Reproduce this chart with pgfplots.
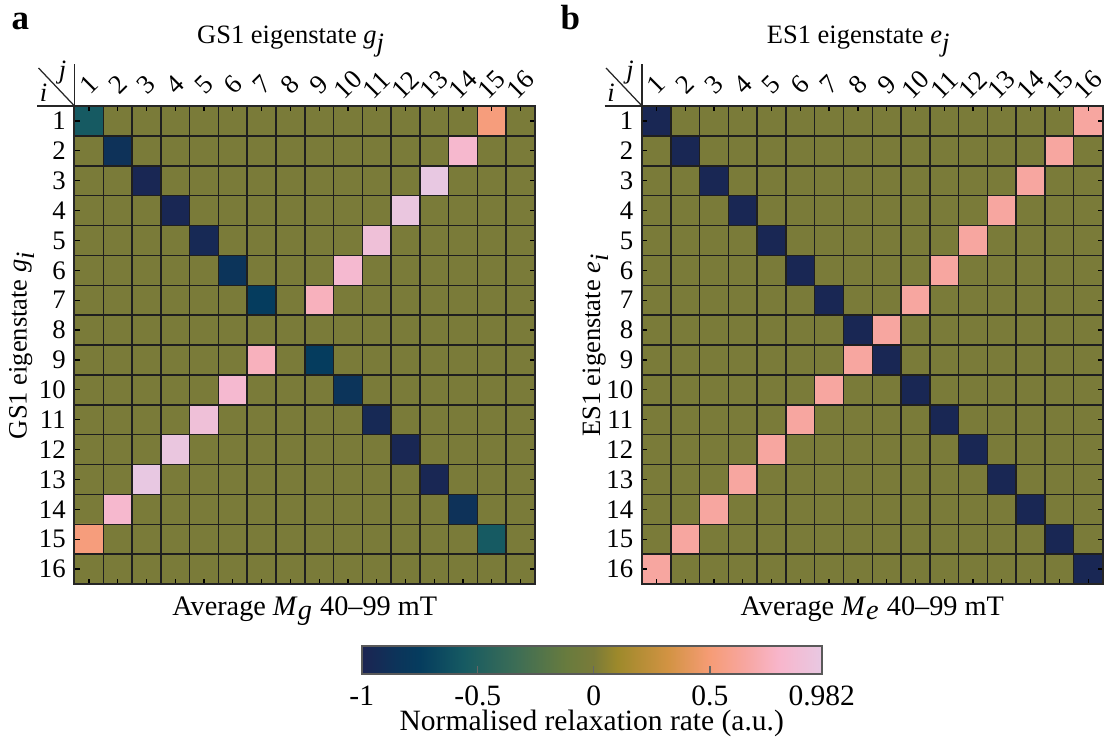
\documentclass[border=0pt]{standalone}
\usepackage{fontspec}
\setmainfont{Liberation Serif}
\usepackage{pgfplots}
\pgfplotsset{compat=1.18}
\usepackage{pgfplotstable}
\usetikzlibrary{calc}

\pgfplotsset{
  colormap={refmap}{
    rgb255(0pt)=(28,36,82);
    rgb255(15pt)=(12,52,90);
    rgb255(25pt)=(5,60,94);
    rgb255(44pt)=(22,90,98);
    rgb255(66pt)=(60,109,86);
    rgb255(88pt)=(104,123,62);
    rgb255(100pt)=(122,123,57);
    rgb255(110pt)=(157,137,43);
    rgb255(132pt)=(210,147,67);
    rgb255(150pt)=(246,156,118);
    rgb255(165pt)=(247,166,160);
    rgb255(180pt)=(248,182,204);
    rgb255(198.2pt)=(232,200,226);
  },
  hm/.style={
    width=184.2pt, height=191.2pt, scale only axis,
    xmin=0.5, xmax=16.5, ymin=0.5, ymax=16.5, y dir=reverse,
    enlargelimits=false,
    xtick={1,...,16}, ytick={1,...,16},
    xticklabels={1,2,3,4,5,6,7,8,9,10,11,12,13,14,15,16},
    yticklabels={1,2,3,4,5,6,7,8,9,10,11,12,13,14,15,16},
    tick label style={font=\fontsize{10.7}{12.8}\selectfont},
    xticklabel pos=upper,
    xticklabel style={rotate=45, anchor=center},
    xticklabel shift=8.5pt,
    minor xtick={0.5,1.5,...,16.5}, minor ytick={0.5,1.5,...,16.5},
    xminorgrids, yminorgrids,
    minor grid style={black!88, line width=0.6pt},
    minor tick length=0pt, major tick length=2pt,
    tick align=inside,
    major tick style={black, line width=0.5pt},
    axis line style={black!85, line width=0.8pt},
    axis on top,
    colormap name=refmap, point meta min=-1, point meta max=0.982,
    title style={font=\fontsize{10.6}{12.7}\selectfont, at={(axis description cs:0.4707,1.0994)}, anchor=base},
    xlabel style={font=\fontsize{11.3}{13.5}\selectfont, at={(axis description cs:0.5,-0.0649)}, anchor=base},
    ylabel style={font=\fontsize{10.6}{12.7}\selectfont, anchor=base},
  },
}

\pgfplotstableread[row sep=\\]{
x y c\\
1 1 -0.56\\ 2 1 0\\ 3 1 0\\ 4 1 0\\ 5 1 0\\ 6 1 0\\ 7 1 0\\ 8 1 0\\ 9 1 0\\ 10 1 0\\ 11 1 0\\ 12 1 0\\ 13 1 0\\ 14 1 0\\ 15 1 0.52\\ 16 1 0\\
1 2 0\\ 2 2 -0.87\\ 3 2 0\\ 4 2 0\\ 5 2 0\\ 6 2 0\\ 7 2 0\\ 8 2 0\\ 9 2 0\\ 10 2 0\\ 11 2 0\\ 12 2 0\\ 13 2 0\\ 14 2 0.82\\ 15 2 0\\ 16 2 0\\
1 3 0\\ 2 3 0\\ 3 3 -0.97\\ 4 3 0\\ 5 3 0\\ 6 3 0\\ 7 3 0\\ 8 3 0\\ 9 3 0\\ 10 3 0\\ 11 3 0\\ 12 3 0\\ 13 3 0.982\\ 14 3 0\\ 15 3 0\\ 16 3 0\\
1 4 0\\ 2 4 0\\ 3 4 0\\ 4 4 -0.97\\ 5 4 0\\ 6 4 0\\ 7 4 0\\ 8 4 0\\ 9 4 0\\ 10 4 0\\ 11 4 0\\ 12 4 0.96\\ 13 4 0\\ 14 4 0\\ 15 4 0\\ 16 4 0\\
1 5 0\\ 2 5 0\\ 3 5 0\\ 4 5 0\\ 5 5 -0.95\\ 6 5 0\\ 7 5 0\\ 8 5 0\\ 9 5 0\\ 10 5 0\\ 11 5 0.9\\ 12 5 0\\ 13 5 0\\ 14 5 0\\ 15 5 0\\ 16 5 0\\
1 6 0\\ 2 6 0\\ 3 6 0\\ 4 6 0\\ 5 6 0\\ 6 6 -0.85\\ 7 6 0\\ 8 6 0\\ 9 6 0\\ 10 6 0.83\\ 11 6 0\\ 12 6 0\\ 13 6 0\\ 14 6 0\\ 15 6 0\\ 16 6 0\\
1 7 0\\ 2 7 0\\ 3 7 0\\ 4 7 0\\ 5 7 0\\ 6 7 0\\ 7 7 -0.75\\ 8 7 0\\ 9 7 0.75\\ 10 7 0\\ 11 7 0\\ 12 7 0\\ 13 7 0\\ 14 7 0\\ 15 7 0\\ 16 7 0\\
1 8 0\\ 2 8 0\\ 3 8 0\\ 4 8 0\\ 5 8 0\\ 6 8 0\\ 7 8 0\\ 8 8 0\\ 9 8 0\\ 10 8 0\\ 11 8 0\\ 12 8 0\\ 13 8 0\\ 14 8 0\\ 15 8 0\\ 16 8 0\\
1 9 0\\ 2 9 0\\ 3 9 0\\ 4 9 0\\ 5 9 0\\ 6 9 0\\ 7 9 0.75\\ 8 9 0\\ 9 9 -0.75\\ 10 9 0\\ 11 9 0\\ 12 9 0\\ 13 9 0\\ 14 9 0\\ 15 9 0\\ 16 9 0\\
1 10 0\\ 2 10 0\\ 3 10 0\\ 4 10 0\\ 5 10 0\\ 6 10 0.83\\ 7 10 0\\ 8 10 0\\ 9 10 0\\ 10 10 -0.85\\ 11 10 0\\ 12 10 0\\ 13 10 0\\ 14 10 0\\ 15 10 0\\ 16 10 0\\
1 11 0\\ 2 11 0\\ 3 11 0\\ 4 11 0\\ 5 11 0.9\\ 6 11 0\\ 7 11 0\\ 8 11 0\\ 9 11 0\\ 10 11 0\\ 11 11 -0.95\\ 12 11 0\\ 13 11 0\\ 14 11 0\\ 15 11 0\\ 16 11 0\\
1 12 0\\ 2 12 0\\ 3 12 0\\ 4 12 0.96\\ 5 12 0\\ 6 12 0\\ 7 12 0\\ 8 12 0\\ 9 12 0\\ 10 12 0\\ 11 12 0\\ 12 12 -0.97\\ 13 12 0\\ 14 12 0\\ 15 12 0\\ 16 12 0\\
1 13 0\\ 2 13 0\\ 3 13 0.982\\ 4 13 0\\ 5 13 0\\ 6 13 0\\ 7 13 0\\ 8 13 0\\ 9 13 0\\ 10 13 0\\ 11 13 0\\ 12 13 0\\ 13 13 -0.97\\ 14 13 0\\ 15 13 0\\ 16 13 0\\
1 14 0\\ 2 14 0.82\\ 3 14 0\\ 4 14 0\\ 5 14 0\\ 6 14 0\\ 7 14 0\\ 8 14 0\\ 9 14 0\\ 10 14 0\\ 11 14 0\\ 12 14 0\\ 13 14 0\\ 14 14 -0.87\\ 15 14 0\\ 16 14 0\\
1 15 0.52\\ 2 15 0\\ 3 15 0\\ 4 15 0\\ 5 15 0\\ 6 15 0\\ 7 15 0\\ 8 15 0\\ 9 15 0\\ 10 15 0\\ 11 15 0\\ 12 15 0\\ 13 15 0\\ 14 15 0\\ 15 15 -0.56\\ 16 15 0\\
1 16 0\\ 2 16 0\\ 3 16 0\\ 4 16 0\\ 5 16 0\\ 6 16 0\\ 7 16 0\\ 8 16 0\\ 9 16 0\\ 10 16 0\\ 11 16 0\\ 12 16 0\\ 13 16 0\\ 14 16 0\\ 15 16 0\\ 16 16 0\\
}\tabA

\pgfplotstableread[row sep=\\]{
x y c\\
1 1 -0.97\\ 2 1 0\\ 3 1 0\\ 4 1 0\\ 5 1 0\\ 6 1 0\\ 7 1 0\\ 8 1 0\\ 9 1 0\\ 10 1 0\\ 11 1 0\\ 12 1 0\\ 13 1 0\\ 14 1 0\\ 15 1 0\\ 16 1 0.65\\
1 2 0\\ 2 2 -0.97\\ 3 2 0\\ 4 2 0\\ 5 2 0\\ 6 2 0\\ 7 2 0\\ 8 2 0\\ 9 2 0\\ 10 2 0\\ 11 2 0\\ 12 2 0\\ 13 2 0\\ 14 2 0\\ 15 2 0.65\\ 16 2 0\\
1 3 0\\ 2 3 0\\ 3 3 -0.97\\ 4 3 0\\ 5 3 0\\ 6 3 0\\ 7 3 0\\ 8 3 0\\ 9 3 0\\ 10 3 0\\ 11 3 0\\ 12 3 0\\ 13 3 0\\ 14 3 0.65\\ 15 3 0\\ 16 3 0\\
1 4 0\\ 2 4 0\\ 3 4 0\\ 4 4 -0.97\\ 5 4 0\\ 6 4 0\\ 7 4 0\\ 8 4 0\\ 9 4 0\\ 10 4 0\\ 11 4 0\\ 12 4 0\\ 13 4 0.65\\ 14 4 0\\ 15 4 0\\ 16 4 0\\
1 5 0\\ 2 5 0\\ 3 5 0\\ 4 5 0\\ 5 5 -0.97\\ 6 5 0\\ 7 5 0\\ 8 5 0\\ 9 5 0\\ 10 5 0\\ 11 5 0\\ 12 5 0.65\\ 13 5 0\\ 14 5 0\\ 15 5 0\\ 16 5 0\\
1 6 0\\ 2 6 0\\ 3 6 0\\ 4 6 0\\ 5 6 0\\ 6 6 -0.97\\ 7 6 0\\ 8 6 0\\ 9 6 0\\ 10 6 0\\ 11 6 0.65\\ 12 6 0\\ 13 6 0\\ 14 6 0\\ 15 6 0\\ 16 6 0\\
1 7 0\\ 2 7 0\\ 3 7 0\\ 4 7 0\\ 5 7 0\\ 6 7 0\\ 7 7 -0.97\\ 8 7 0\\ 9 7 0\\ 10 7 0.65\\ 11 7 0\\ 12 7 0\\ 13 7 0\\ 14 7 0\\ 15 7 0\\ 16 7 0\\
1 8 0\\ 2 8 0\\ 3 8 0\\ 4 8 0\\ 5 8 0\\ 6 8 0\\ 7 8 0\\ 8 8 -0.97\\ 9 8 0.65\\ 10 8 0\\ 11 8 0\\ 12 8 0\\ 13 8 0\\ 14 8 0\\ 15 8 0\\ 16 8 0\\
1 9 0\\ 2 9 0\\ 3 9 0\\ 4 9 0\\ 5 9 0\\ 6 9 0\\ 7 9 0\\ 8 9 0.65\\ 9 9 -0.97\\ 10 9 0\\ 11 9 0\\ 12 9 0\\ 13 9 0\\ 14 9 0\\ 15 9 0\\ 16 9 0\\
1 10 0\\ 2 10 0\\ 3 10 0\\ 4 10 0\\ 5 10 0\\ 6 10 0\\ 7 10 0.65\\ 8 10 0\\ 9 10 0\\ 10 10 -0.97\\ 11 10 0\\ 12 10 0\\ 13 10 0\\ 14 10 0\\ 15 10 0\\ 16 10 0\\
1 11 0\\ 2 11 0\\ 3 11 0\\ 4 11 0\\ 5 11 0\\ 6 11 0.65\\ 7 11 0\\ 8 11 0\\ 9 11 0\\ 10 11 0\\ 11 11 -0.97\\ 12 11 0\\ 13 11 0\\ 14 11 0\\ 15 11 0\\ 16 11 0\\
1 12 0\\ 2 12 0\\ 3 12 0\\ 4 12 0\\ 5 12 0.65\\ 6 12 0\\ 7 12 0\\ 8 12 0\\ 9 12 0\\ 10 12 0\\ 11 12 0\\ 12 12 -0.97\\ 13 12 0\\ 14 12 0\\ 15 12 0\\ 16 12 0\\
1 13 0\\ 2 13 0\\ 3 13 0\\ 4 13 0.65\\ 5 13 0\\ 6 13 0\\ 7 13 0\\ 8 13 0\\ 9 13 0\\ 10 13 0\\ 11 13 0\\ 12 13 0\\ 13 13 -0.97\\ 14 13 0\\ 15 13 0\\ 16 13 0\\
1 14 0\\ 2 14 0\\ 3 14 0.65\\ 4 14 0\\ 5 14 0\\ 6 14 0\\ 7 14 0\\ 8 14 0\\ 9 14 0\\ 10 14 0\\ 11 14 0\\ 12 14 0\\ 13 14 0\\ 14 14 -0.97\\ 15 14 0\\ 16 14 0\\
1 15 0\\ 2 15 0.65\\ 3 15 0\\ 4 15 0\\ 5 15 0\\ 6 15 0\\ 7 15 0\\ 8 15 0\\ 9 15 0\\ 10 15 0\\ 11 15 0\\ 12 15 0\\ 13 15 0\\ 14 15 0\\ 15 15 -0.97\\ 16 15 0\\
1 16 0.65\\ 2 16 0\\ 3 16 0\\ 4 16 0\\ 5 16 0\\ 6 16 0\\ 7 16 0\\ 8 16 0\\ 9 16 0\\ 10 16 0\\ 11 16 0\\ 12 16 0\\ 13 16 0\\ 14 16 0\\ 15 16 0\\ 16 16 -0.97\\
}\tabB

\begin{document}
\begin{tikzpicture}
\useasboundingbox (0,0) rectangle (443.2pt,296.8pt);

\begin{axis}[hm, name=A, at={(29.8pt,63.2pt)}, anchor=south west,
  title={GS1 eigenstate \textit{g}$_{\textit{j}}$},
  xlabel={Average \textit{M}$_{\textit{g}}$ 40–99 mT},
  ylabel={GS1 eigenstate \textit{g}$_{\textit{i}}$},
  ylabel style={at={(axis description cs:-0.1037,0.5)}},
  colorbar horizontal,
  colorbar style={
    at={($(parent axis.south west)+(114.9pt,-16.4pt)$)}, anchor=north west,
    width=184pt, height=11.2pt, scale only axis,
    xtick={-1,-0.5,0,0.5,0.982},
    xticklabels={-1,-0.5,0,0.5,0.982},
    xticklabel pos=lower,
    xtick pos=lower,
    tick align=inside,
    major tick length=3.2pt,
    xticklabel style={anchor=base, yshift=-12.4pt, font=\fontsize{11.8}{14}\selectfont},
    major tick style={black!60, line width=0.5pt},
    axis line style={black!65, line width=0.8pt},
    xlabel={Normalised relaxation rate (a.u.)},
    xlabel style={at={(axis description cs:0.5,-2.0)}, anchor=base, font=\fontsize{11.8}{14}\selectfont},
  },
]
\addplot[matrix plot*, mesh/cols=16, point meta=explicit] table[x=x, y=y, meta=c] {\tabA};
\end{axis}

\begin{axis}[hm, name=B, at={(256.8pt,63.2pt)}, anchor=south west,
  title={ES1 eigenstate \textit{e}$_{\textit{j}}$},
  xlabel={Average \textit{M}$_{\textit{e}}$ 40–99 mT},
  ylabel={ES1 eigenstate \textit{e}$_{\textit{i}}$},
  ylabel style={at={(axis description cs:-0.0907,0.5)}},
]
\addplot[matrix plot*, mesh/cols=16, point meta=explicit] table[x=x, y=y, meta=c] {\tabB};
\end{axis}

\foreach \ax in {A,B}{
  \draw[black!85, line width=0.5pt] ($(\ax.north west)+(-15pt,0)$) -- (\ax.north west) -- ++(0,16.8pt);
  \draw[black!85, line width=0.5pt] (\ax.north west) -- ++(-14.4pt,15.2pt);
  \node[font=\itshape\fontsize{10.6}{12.7}\selectfont, inner sep=0] at ($(\ax.north west)+(-4.8pt,13.2pt)$) {j};
  \node[font=\itshape\fontsize{10.6}{12.7}\selectfont, inner sep=0] at ($(\ax.north west)+(-12.4pt,5.2pt)$) {i};
}

\node[anchor=base west, font=\bfseries\fontsize{14}{16}\selectfont, inner sep=0] at (4.4pt,285pt) {a};
\node[anchor=base west, font=\bfseries\fontsize{14}{16}\selectfont, inner sep=0] at (224pt,285pt) {b};
\end{tikzpicture}
\end{document}
